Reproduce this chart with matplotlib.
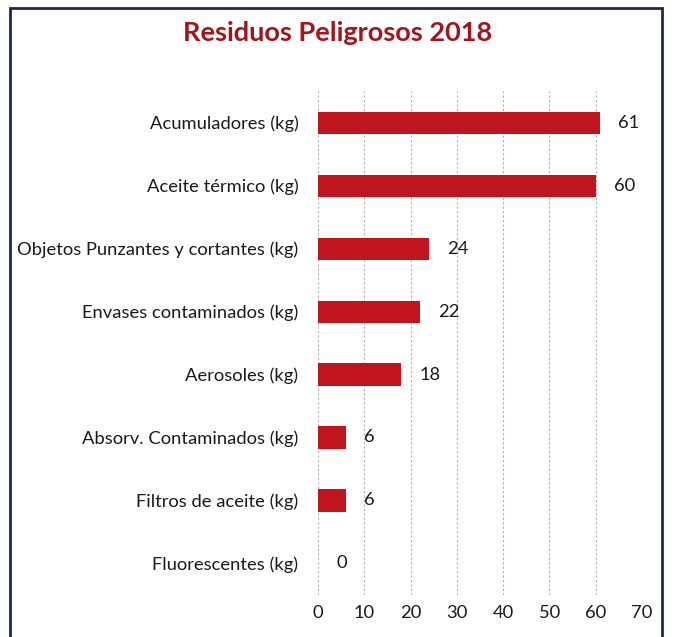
import matplotlib.pyplot as plt
from matplotlib.patches import Rectangle

# datos
categorias = ['Acumuladores (kg)', 'Aceite térmico (kg)', 'Objetos Punzantes y cortantes (kg)',
              'Envases contaminados (kg)', 'Aerosoles (kg)', 'Absorv. Contaminados (kg)',
              'Filtros de aceite (kg)', 'Fluorescentes (kg)']
valores = [61, 60, 24, 22, 18, 6, 6, 0]
ticks_x = [0, 10, 20, 30, 40, 50, 60, 70]

plt.rcParams['font.family'] = ['Lato', 'DejaVu Sans']

fig = plt.figure(figsize=(6.76, 6.37), dpi=100)
ax = fig.add_axes([0.4704, 0.066, 0.479, 0.791])

y = list(range(len(categorias)))
ax.barh(y, valores, height=0.35, color='#c0141e', zorder=2)
ax.set_ylim(len(categorias) - 0.5, -0.5)
ax.set_xlim(0, 70)
ax.set_yticks(y)
ax.set_yticklabels(categorias, fontsize=13.2, color='#1a1a1a')
ax.set_xticks(ticks_x)
ax.tick_params(axis='x', labelsize=13.2, colors='#1a1a1a', length=0, pad=7)
ax.tick_params(axis='y', length=0, pad=14)
ax.grid(axis='x', color='#b0b0b0', linestyle=(0, (2, 2)), linewidth=0.8, zorder=0)
for s in ax.spines.values():
    s.set_visible(False)

# etiquetas de valores
for yi, v in zip(y, valores):
    ax.annotate(str(v), (v, yi), xytext=(13, 0), textcoords='offset points',
                va='center', ha='left', fontsize=13.2, color='#1a1a1a')

fig.text(0.5, 0.948, 'Residuos Peligrosos 2018', ha='center', va='center',
         fontsize=19.5, fontweight='bold', color='#a3151c')

# marco
fig.patches.append(Rectangle((10 / 676, -0.01), 652 / 676, 1 - 8 / 637 + 0.01,
                             transform=fig.transFigure, fill=False,
                             edgecolor='#1b2a4a', linewidth=2))

plt.savefig('out.png', dpi=100)
